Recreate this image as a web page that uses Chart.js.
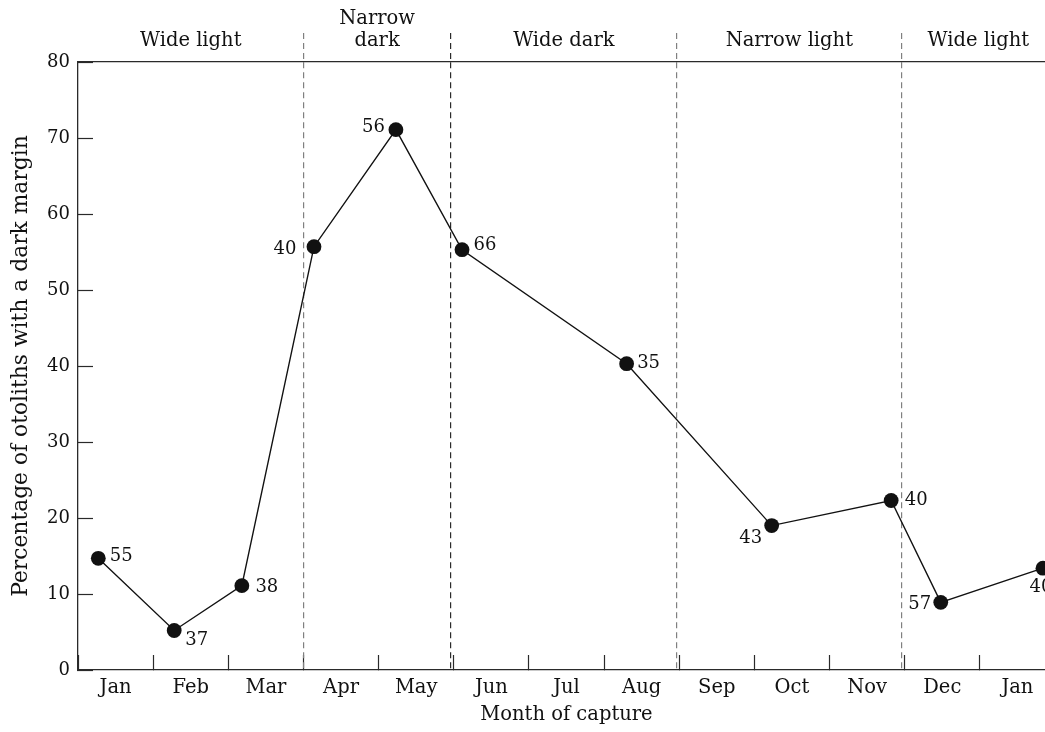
<!DOCTYPE html>
<html>
<head>
<meta charset="utf-8">
<script src="https://cdn.jsdelivr.net/npm/chart.js@4.4.1/dist/chart.umd.min.js"></script>
<style>
  html, body { margin: 0; padding: 0; background: #ffffff; overflow: hidden; }
  #wrap { width: 1065px; height: 732px; }
</style>
</head>
<body>
<div id="wrap"><canvas id="c" width="1065" height="732"></canvas></div>
<script>
// ---- Data ----
// x position of each sample, in months from 1 January of the first year
const samplePositions = [0.27, 1.28, 2.18, 3.14, 4.23, 5.11, 7.30, 9.23, 10.82, 11.48, 12.84];
// percentage of otoliths with a dark margin
const darkMarginPct   = [14.7, 5.2, 11.1, 55.7, 71.1, 55.3, 40.3, 19.0, 22.3, 8.9, 13.4];
// sample sizes written next to each point
const sampleSizes     = ['55', '37', '38', '40', '56', '66', '35', '43', '40', '57', '40'];

// month tick labels (each centred in its month)
const monthLabels = ['Jan', 'Feb', 'Mar', 'Apr', 'May', 'Jun', 'Jul', 'Aug', 'Sep', 'Oct', 'Nov', 'Dec', 'Jan'];
const yTicks = [0, 10, 20, 30, 40, 50, 60, 70, 80];

// margin-type periods: boundaries (dashed lines) and labels
const periodBoundaries = [3.0, 4.96, 7.97, 10.96];
const periodLabels = ['Wide light', ['Narrow', 'dark'], 'Wide dark', 'Narrow light', 'Wide light'];
const periodStarts = [0, 3.0, 4.96, 7.97, 10.96];
const periodEnds   = [3.0, 4.96, 7.97, 10.96, 13];

// ---- Styling (not data) ----
const FONT = 'DejaVu Serif';
const INK = '#111111';
const AXIS = '#2a2a2a';
const dashColors = ['#808080', '#2a2a2a', '#808080', '#808080'];
// label offsets (px) of the sample sizes relative to their point
const labelOffsets = [[23, -2], [22.5, 10], [25, 2], [-29, 2.5], [-22.5, -2], [23, -4],
                      [22, 0], [-21, 13], [25, 0], [-21, 2], [-2, 19.5]];

const points = samplePositions.map((x, i) => ({ x: x, y: darkMarginPct[i] }));
const periodCentres = periodStarts.map((s, i) => (s + periodEnds[i]) / 2);

const sizeLabels = {
  id: 'sizeLabels',
  afterDatasetsDraw(chart) {
    const ctx = chart.ctx;
    const meta = chart.getDatasetMeta(0);
    ctx.save();
    ctx.font = '18px "' + FONT + '"';
    ctx.fillStyle = INK;
    ctx.textAlign = 'center';
    ctx.textBaseline = 'middle';
    meta.data.forEach((el, i) => {
      const o = labelOffsets[i];
      ctx.fillText(sampleSizes[i], el.x + o[0], el.y + o[1]);
    });
    ctx.restore();
  }
};

new Chart(document.getElementById('c'), {
  type: 'line',
  data: {
    datasets: [{
      data: points,
      borderColor: INK,
      borderWidth: 1.4,
      tension: 0,
      pointRadius: 7.4,
      pointHoverRadius: 7.4,
      pointBackgroundColor: INK,
      pointBorderWidth: 0,
      clip: false
    }]
  },
  options: {
    responsive: false,
    animation: false,
    events: [],
    layout: { padding: { left: 0, right: 10, top: 0, bottom: 0 } },
    plugins: { legend: { display: false }, tooltip: { enabled: false } },
    scales: {
      x: {
        type: 'linear',
        position: 'bottom',
        min: 0,
        max: 13,
        afterBuildTicks(scale) {
          const t = [];
          for (let i = 0; i <= 13; i++) t.push({ value: i });
          monthLabels.forEach((m, i) => t.push({ value: i + 0.5 }));
          scale.ticks = t;
        },
        afterFit(scale) { scale.height = 62; },
        ticks: {
          autoSkip: false,
          maxRotation: 0,
          minRotation: 0,
          padding: 21.3,
          color: INK,
          font: { family: FONT, size: 19.5 },
          callback(value) {
            return (value % 1 === 0) ? '' : monthLabels[Math.floor(value)];
          }
        },
        grid: {
          drawOnChartArea: false,
          drawTicks: true,
          tickLength: -15,
          tickWidth: 1.2,
          tickColor: (c) => (c.tick && c.tick.value % 1 === 0) ? AXIS : 'rgba(0,0,0,0)'
        },
        border: { display: true, color: AXIS, width: 1.3 },
        title: {
          display: true,
          text: 'Month of capture',
          color: INK,
          font: { family: FONT, size: 19.5 },
          padding: { top: 0, bottom: 5 }
        }
      },
      x2: {
        type: 'linear',
        position: 'top',
        min: 0,
        max: 13,
        afterBuildTicks(scale) {
          scale.ticks = periodBoundaries.map(v => ({ value: v }))
            .concat(periodCentres.map(v => ({ value: v })));
        },
        afterFit(scale) { scale.height = 62; },
        ticks: {
          autoSkip: false,
          maxRotation: 0,
          minRotation: 0,
          padding: -18.2,
          color: INK,
          font: { family: FONT, size: 19.5, lineHeight: 1.1 },
          callback(value, index) {
            return index < periodBoundaries.length ? '' : periodLabels[index - periodBoundaries.length];
          }
        },
        grid: {
          drawOnChartArea: true,
          drawTicks: true,
          tickLength: 29,
          lineWidth: 1.2,
          tickWidth: 1.2,
          tickBorderDash: [6, 4],
          color: (c) => c.index < periodBoundaries.length ? dashColors[c.index] : 'rgba(0,0,0,0)',
          tickColor: (c) => c.index < periodBoundaries.length ? dashColors[c.index] : 'rgba(0,0,0,0)'
        },
        border: { display: true, color: AXIS, width: 1.3, dash: [6, 4] }
      },
      y: {
        type: 'linear',
        position: 'left',
        min: 0,
        max: 80,
        afterBuildTicks(scale) { scale.ticks = yTicks.map(v => ({ value: v })); },
        afterFit(scale) { scale.width = 78; },
        ticks: {
          padding: 23,
          color: INK,
          font: { family: FONT, size: 18 }
        },
        grid: {
          drawOnChartArea: false,
          drawTicks: true,
          tickLength: -15,
          tickWidth: 1.2,
          tickColor: AXIS
        },
        border: { display: true, color: AXIS, width: 1.3 },
        title: {
          display: true,
          text: 'Percentage of otoliths with a dark margin',
          color: INK,
          font: { family: FONT, size: 21.8 },
          padding: { top: 8.4, bottom: 0 }
        }
      }
    }
  },
  plugins: [sizeLabels]
});
</script>
</body>
</html>
